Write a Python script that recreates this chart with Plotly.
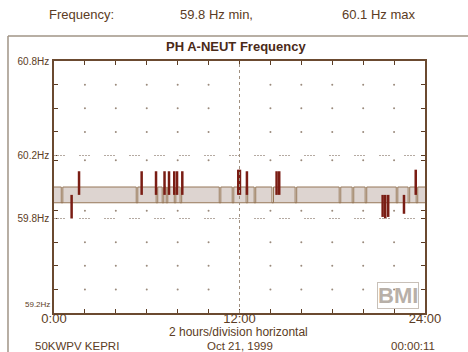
import plotly.graph_objects as go

# ---- data ----
band_max_base = 60.0          # usual max of each interval (Hz)
band_min_base = 59.9          # usual min of each interval (Hz)
notch_hours = [0.52, 5.37, 6.66, 7.05, 7.31, 7.83, 8.21, 10.74, 11.58, 12.48,
               13.0, 14.15, 15.65, 18.5, 19.34, 20.18, 22.19, 22.96, 23.48]
spike_up_hours = [1.62, 5.67, 6.60, 7.15, 7.44, 7.78, 7.96, 8.30, 11.92, 12.03,
                  12.48, 14.40, 14.57, 23.40]
spike_up_values = [60.1, 60.1, 60.1, 60.1, 60.1, 60.1, 60.1, 60.1, 60.11, 60.11,
                   60.1, 60.1, 60.1, 60.11]
spike_down_hours = [1.14, 21.26, 21.43, 21.62, 22.64]
spike_down_values = [59.8, 59.81, 59.8, 59.81, 59.83]

y_tick_vals = [60.8, 60.2, 59.8]
y_tick_text = ["60.8Hz", "60.2Hz", "59.8Hz"]
y_bottom_label = "59.2Hz"
y_minor_vals = [60.65, 60.5, 60.35, 60.17, 59.85, 59.65, 59.5, 59.35, 59.2]
x_tick_vals = list(range(0, 25, 2))
x_tick_text = ["0:00", "", "", "", "", "", "12:00", "", "", "", "", "", "24:00"]

BROWN = "#5b3c24"
EDGE = "#967758"
FILL = "#ddd4d0"
RED = "#7a1d14"

# ---- build envelope paths ----
w = 0.05
max_x, max_y = [0], [band_max_base]
for t in notch_hours:
    max_x += [t - w, t - w, t + w, t + w]
    max_y += [band_max_base, band_min_base, band_min_base, band_max_base]
max_x.append(24)
max_y.append(band_max_base)

min_x = [0, 24]
min_y = [band_min_base, band_min_base]

fig = go.Figure()
fig.add_trace(go.Scatter(x=min_x, y=min_y, mode="lines",
                         line=dict(color=EDGE, width=1), hoverinfo="skip"))
fig.add_trace(go.Scatter(x=max_x, y=max_y, mode="lines", fill="tonexty",
                         fillcolor=FILL, line=dict(color=EDGE, width=1),
                         hoverinfo="skip"))

# spikes
ux, uy = [], []
for t, v in zip(spike_up_hours, spike_up_values):
    ux += [t, t, None]
    uy += [59.95, v, None]
dx, dy = [], []
for t, v in zip(spike_down_hours, spike_down_values):
    dx += [t, t, None]
    dy += [59.95, v, None]
fig.add_trace(go.Scatter(x=ux, y=uy, mode="lines", line=dict(color=RED, width=2.5),
                         hoverinfo="skip"))
fig.add_trace(go.Scatter(x=dx, y=dy, mode="lines", line=dict(color=RED, width=2.5),
                         hoverinfo="skip"))

# dot grid
gx, gy = [], []
for xv in x_tick_vals[1:-1]:
    if xv == 12:
        continue
    for yv in y_minor_vals[:-1]:
        gx.append(xv)
        gy.append(yv)
fig.add_trace(go.Scatter(x=gx, y=gy, mode="markers",
                         marker=dict(size=2, color="#9a8a7c"), hoverinfo="skip"))

shapes = [
    dict(type="line", xref="x", yref="y", x0=0, x1=24, y0=60.2, y1=60.2,
         line=dict(color="#b5aaa2", width=1, dash="2px,1px,2px,1px,2px,1px,2px,14px")),
    dict(type="line", xref="x", yref="y", x0=0, x1=24, y0=59.8, y1=59.8,
         line=dict(color="#b5aaa2", width=1, dash="2px,1px,2px,1px,2px,1px,2px,14px")),
    dict(type="line", xref="x", yref="y", x0=12, x1=12, y0=59.2, y1=60.8,
         line=dict(color="#a09080", width=1, dash="dot")),
    # outer frame
    dict(type="line", xref="paper", yref="paper", x0=-0.124, x1=1.12, y0=1.099, y1=1.099,
         line=dict(color="#a09486", width=1.5)),
    dict(type="line", xref="paper", yref="paper", x0=-0.124, x1=-0.124, y0=1.099, y1=-0.16,
         line=dict(color="#a09486", width=1.5)),
]

F = "Liberation Sans, Arial, sans-serif"
ann = [
    dict(text="Frequency:", x=-0.02, y=1.183, xanchor="left", font=dict(size=13, color=BROWN)),
    dict(text="59.8 Hz min,", x=0.334, y=1.183, xanchor="left", font=dict(size=13, color=BROWN)),
    dict(text="60.1 Hz max", x=0.771, y=1.183, xanchor="left", font=dict(size=13, color=BROWN)),
    dict(text="<b>PH A-NEUT Frequency</b>", x=0.49, y=1.056, xanchor="center",
         font=dict(size=13, color="#4a2a18")),
    dict(text="2 hours/division horizontal", x=0.496, y=-0.077, xanchor="center",
         font=dict(size=12, color=BROWN)),
    dict(text="50KWPV KEPRI", x=-0.057, y=-0.13, xanchor="left", font=dict(size=11.5, color=BROWN)),
    dict(text="Oct 21, 1999", x=0.5, y=-0.13, xanchor="center", font=dict(size=11.5, color=BROWN)),
    dict(text="00:00:11", x=0.968, y=-0.13, xanchor="center", font=dict(size=11.5, color=BROWN)),
    dict(text="<b>BMI</b>", x=0.927, y=0.068, xanchor="center", font=dict(size=22, color="#b8b0a8"),
         bordercolor="#c8c0b8", borderwidth=1, borderpad=0),
    dict(text=y_bottom_label, x=-0.006, y=0.032, xanchor="right", font=dict(size=8, color=BROWN)),
]
for a in ann:
    a.update(xref="paper", yref="paper", yanchor="middle", showarrow=False)

fig.update_layout(
    width=468, height=352,
    margin=dict(l=54, r=43, t=61, b=39),
    paper_bgcolor="white", plot_bgcolor="white",
    showlegend=False,
    font=dict(family=F, color=BROWN),
    shapes=shapes, annotations=ann,
)
fig.update_xaxes(range=[0, 24], tickvals=x_tick_vals, ticktext=x_tick_text,
                 ticks="inside", ticklen=4, tickcolor=BROWN, mirror="ticks",
                 showline=True, linecolor="#6b4a30", linewidth=1.5,
                 showgrid=False, zeroline=False, tickfont=dict(size=13, color=BROWN),
                 ticklabelstandoff=-7)
fig.update_yaxes(range=[59.2, 60.8], tickvals=y_tick_vals + y_minor_vals,
                 ticktext=y_tick_text + [""] * len(y_minor_vals),
                 ticks="inside", ticklen=4, tickcolor=BROWN, mirror="ticks",
                 showline=True, linecolor="#6b4a30", linewidth=1.5,
                 showgrid=False, zeroline=False, tickfont=dict(size=10, color=BROWN),
                 ticklabelstandoff=1)

fig.write_html("out.html", config={"displayModeBar": False},
               post_script="document.body.style.margin='0px';")
